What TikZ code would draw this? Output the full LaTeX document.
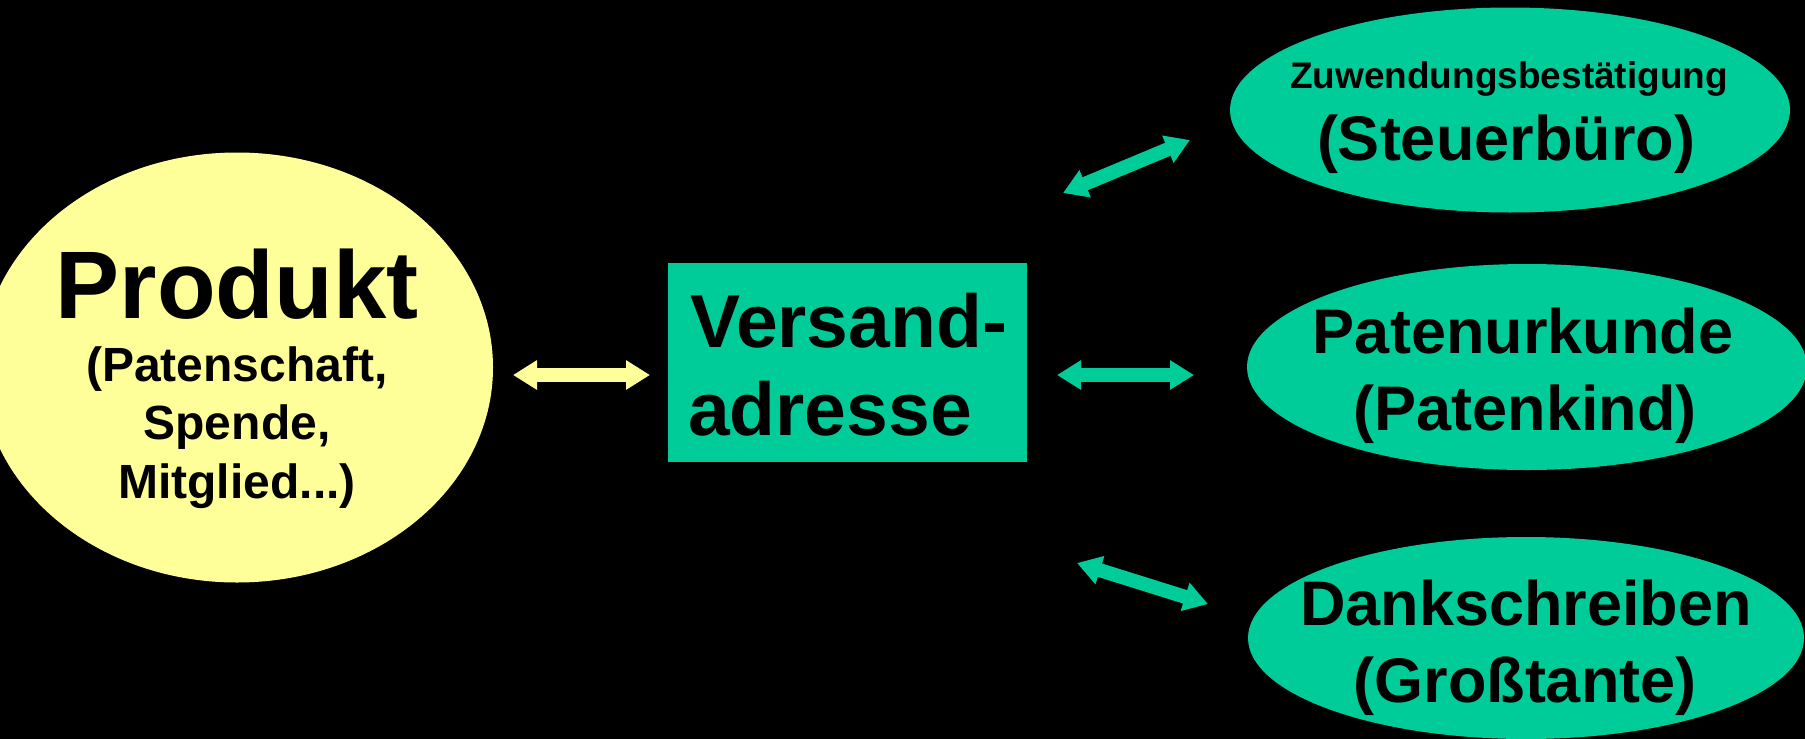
\documentclass[tikz,border=0pt]{standalone}
\usepackage{fontspec}
\setmainfont{Liberation Sans}
\usetikzlibrary{shapes.geometric,arrows.meta}
\definecolor{mint}{HTML}{00CC99}
\definecolor{paleyellow}{HTML}{FFFF99}
\tikzset{
  blob/.style={ellipse, draw=none, inner sep=0pt},
  greenblob/.style={blob, fill=mint},
  label/.style={anchor=base, inner sep=0pt, text=black},
  fs/.style={font=\bfseries\fontsize{#1}{#1}\selectfont},
  twoway/.style={line width=14pt,
    {Triangle[width=28pt,length=24pt]}-{Triangle[width=28pt,length=24pt]}},
}
\begin{document}
\begin{tikzpicture}[x=1pt,y=-1pt]
  \useasboundingbox (0,0) rectangle (1805,739);
  \fill[black] (0,0) rectangle (1805,739);
  \clip (0,0) rectangle (1805,739);

  % shapes
  \node[blob, fill=paleyellow, minimum width=512pt, minimum height=430pt] (produkt) at (237,367.5) {};
  \node[fill=mint, inner sep=0pt, minimum width=359pt, minimum height=199pt] (versand) at (847.5,362.5) {};
  \node[greenblob, minimum width=560pt, minimum height=205pt] (steuer) at (1510,110) {};
  \node[greenblob, minimum width=560pt, minimum height=206pt] (urkunde) at (1527,367) {};
  \node[greenblob, minimum width=556pt, minimum height=202pt] (dank) at (1526,638) {};

  % texts
  \node[label, fs=96] (tProdukt) at (237,318) {Produkt};
  \node[label, fs=48] (tPaten) at (237,381) {(Patenschaft,};
  \node[label, fs=48] (tSpende) at (237,439) {Spende,};
  \node[label, fs=48] (tMitglied) at (237,498) {Mitglied...)};

  \node[label, fs=75, anchor=base west] (tVersand) at (690,347) {Versand-};
  \node[label, fs=75, anchor=base west] (tAdresse) at (688,435) {adresse};

  \node[label, fs=37] (tZuwendung) at (1509,88) {Zuwendungsbestätigung};
  \node[label, fs=63] (tSteuer) at (1506,160) {(Steuerbüro)};

  \node[label, fs=63] (tUrkunde) at (1523,353) {Patenurkunde};
  \node[label, fs=63] (tKind) at (1525,430) {(Patenkind)};

  \node[label, fs=63] (tDank) at (1526,625) {Dankschreiben};
  \node[label, fs=63] (tTante) at (1525,702) {(Großtante)};

  % arrow end points
  \coordinate (y1) at (513,375);
  \coordinate (y2) at (650,375);
  \coordinate (m1) at (1057,375);
  \coordinate (m2) at (1194,375);
  \coordinate (t1) at (1063,193);
  \coordinate (t2) at (1190,140);
  \coordinate (b1) at (1077,563);
  \coordinate (b2) at (1208,604);

  % double-headed arrows
  \draw[twoway, draw=paleyellow, fill=paleyellow] (y1) -- (y2);
  \draw[twoway, draw=mint, fill=mint] (m1) -- (m2);
  \draw[twoway, draw=mint, fill=mint] (t1) -- (t2);
  \draw[twoway, draw=mint, fill=mint] (b1) -- (b2);
\end{tikzpicture}
\end{document}
